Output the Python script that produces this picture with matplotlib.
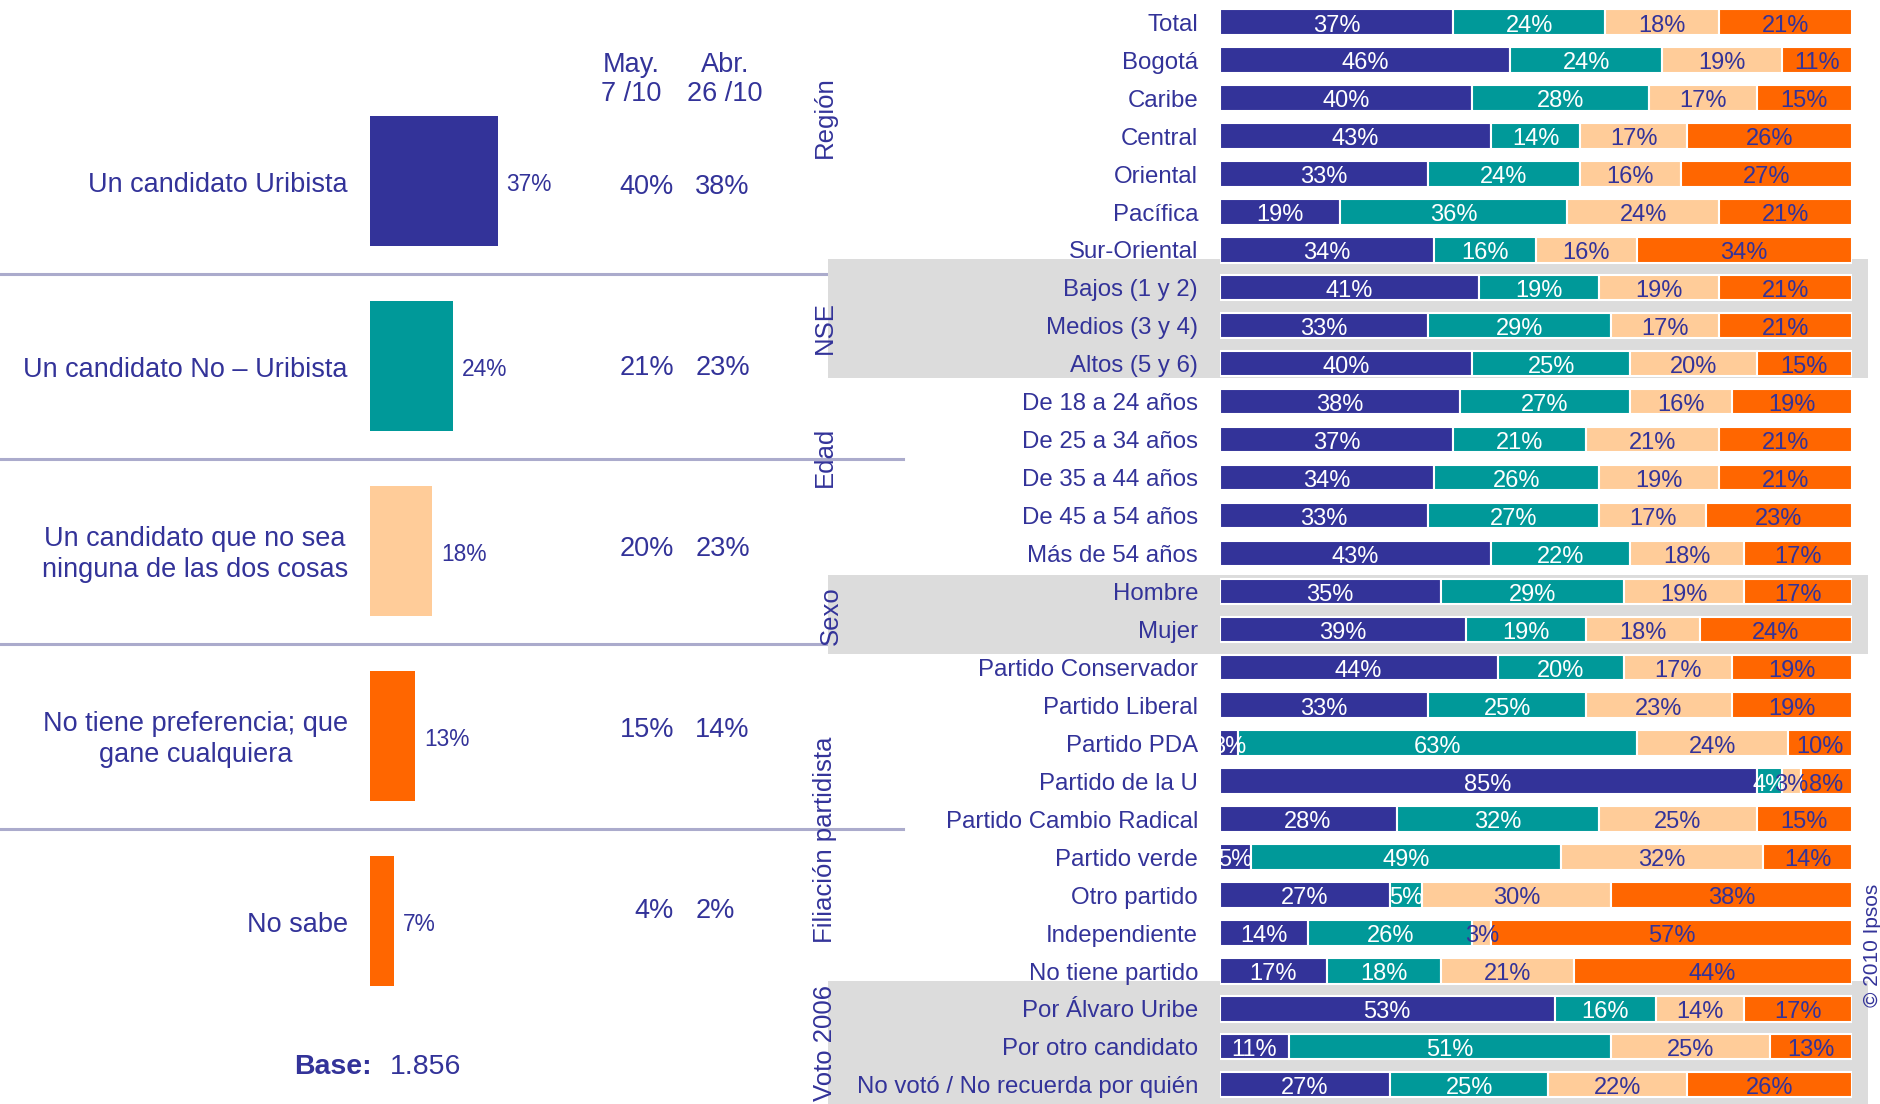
import matplotlib
matplotlib.use("Agg")
import matplotlib.pyplot as plt
import numpy as np

plt.rcParams['font.family'] = ['Liberation Sans', 'DejaVu Sans']

NAVY = '#333399'
TEAL = '#009999'
PEACH = '#FFCC99'
ORANGE = '#FF6600'
TXT = '#333399'

# left panel data
options = ["Un candidato Uribista", "Un candidato No – Uribista",
           "Un candidato que no sea\nninguna de las dos cosas",
           "No tiene preferencia; que\ngane cualquiera", "No sabe"]
current = [37, 24, 18, 13, 7]
may_7 = [40, 21, 20, 15, 4]
abr_26 = [38, 23, 23, 14, 2]
option_colors = [NAVY, TEAL, PEACH, ORANGE, ORANGE]
base_n = "1.856"

# right panel data
rows = ["Total", "Bogotá", "Caribe", "Central", "Oriental", "Pacífica", "Sur-Oriental",
        "Bajos (1 y 2)", "Medios (3 y 4)", "Altos (5 y 6)",
        "De 18 a 24 años", "De 25 a 34 años", "De 35 a 44 años", "De 45 a 54 años", "Más de 54 años",
        "Hombre", "Mujer",
        "Partido Conservador", "Partido Liberal", "Partido PDA", "Partido de la U",
        "Partido Cambio Radical", "Partido verde", "Otro partido", "Independiente", "No tiene partido",
        "Por Álvaro Uribe", "Por otro candidato", "No votó / No recuerda por quién"]
uribista = [37, 46, 40, 43, 33, 19, 34, 41, 33, 40, 38, 37, 34, 33, 43, 35, 39,
            44, 33, 3, 85, 28, 5, 27, 14, 17, 53, 11, 27]
no_uribista = [24, 24, 28, 14, 24, 36, 16, 19, 29, 25, 27, 21, 26, 27, 22, 29, 19,
               20, 25, 63, 4, 32, 49, 5, 26, 18, 16, 51, 25]
ninguna = [18, 19, 17, 17, 16, 24, 16, 19, 17, 20, 16, 21, 19, 17, 18, 19, 18,
           17, 23, 24, 3, 25, 32, 30, 3, 21, 14, 25, 22]
cualquiera = [21, 11, 15, 26, 27, 21, 34, 21, 21, 15, 19, 21, 21, 23, 17, 17, 24,
              19, 19, 10, 8, 15, 14, 38, 57, 44, 17, 13, 26]

groups = ["Región", "NSE", "Edad", "Sexo", "Filiación partidista", "Voto 2006"]
group_spans = [(0, 6), (7, 9), (10, 14), (15, 16), (17, 25), (26, 28)]
group_nudge = [-0.5, 0.06, -0.54, 0.13, 0.55, -0.1]
group_x = [-62.4, -62.4, -62.4, -61.5, -62.4, -62.4]
shaded = [(6.24, 9.39), (14.57, 16.64), (25.27, 29.0)]

W, H = 1880, 1104
fig = plt.figure(figsize=(W / 100, H / 100), dpi=100)

# ---- left panel ----
l_left, l_w = 370, 345
l_top, l_bot = 88.5, 1013.5
axl = fig.add_axes([l_left / W, 1 - l_bot / H, l_w / W, (l_bot - l_top) / H])
y = np.arange(len(options))
axl.barh(y, current, height=0.70, color=option_colors, edgecolor='none')
axl.set_xlim(0, 100)
axl.set_ylim(len(options) - 0.5, -0.5)
axl.axis('off')

for i, opt in enumerate(options):
    axl.text(-6.4, i + 0.02, opt, ha='right', va='center', multialignment='center',
             fontsize=19.5, color=TXT, linespacing=1.25)
    axl.text(current[i] + 2.6, i + 0.02, f"{current[i]}%", ha='left', va='center',
             fontsize=16.4, color=TXT)
    # the comparison columns sit on a slightly tighter pitch than the bars
    yc = i * 0.979 + 0.03
    axl.text(88.1, yc, f"{may_7[i]}%", ha='right', va='center', fontsize=19.5, color=TXT)
    axl.text(94.3, yc, f"{abr_26[i]}%", ha='left', va='center', fontsize=19.5, color=TXT)

axl.text(75.7, -0.55, "May.\n7 /10", ha='center', va='center', fontsize=19.5,
         color=TXT, linespacing=1.15)
axl.text(102.9, -0.55, "Abr.\n26 /10", ha='center', va='center', fontsize=19.5,
         color=TXT, linespacing=1.15)

for k in range(len(options) - 1):
    axl.axhline(k + 0.5, xmin=-l_left / l_w, xmax=(903 - l_left) / l_w,
                color='#ABABCC', lw=2.2, clip_on=False, zorder=0)

axl.text(-22.0, 4.79, "Base:", ha='left', va='center', fontsize=20.5,
         fontweight='bold', color=TXT)
axl.text(5.8, 4.79, base_n, ha='left', va='center', fontsize=20.5, color=TXT)

# ---- right panel ----
r_left, r_right = 1219.5, 1851.7
row0, step = 22.1, 37.95
r_top = row0 - step / 2
r_bot = row0 + step * (len(rows) - 0.5)
axr = fig.add_axes([r_left / W, 1 - r_bot / H, (r_right - r_left) / W, (r_bot - r_top) / H])
axr.set_xlim(0, 100)
axr.set_ylim(len(rows) - 0.5, -0.5)
axr.axis('off')

r_w = r_right - r_left
for a, b in shaded:
    axr.axhspan(a, b, xmin=(828 - r_left) / r_w, xmax=(1867.7 - r_left) / r_w,
                color='#DCDCDC', clip_on=False, zorder=0, lw=0)

yr = np.arange(len(rows))
series = [uribista, no_uribista, ninguna, cualquiera]
colors = [NAVY, TEAL, PEACH, ORANGE]
label_colors = ['white', 'white', TXT, TXT]
left = np.zeros(len(rows))
for vals, col, lc in zip(series, colors, label_colors):
    vals = np.array(vals, dtype=float)
    axr.barh(yr, vals, left=left, height=0.67, color=col,
             edgecolor='white', linewidth=1.5, zorder=2)
    for j, v in enumerate(vals):
        axr.text(left[j] + v / 2, j + 0.09, f"{int(v)}%", ha='center', va='center',
                 fontsize=17, color=lc, zorder=3)
    left += vals

for j, name in enumerate(rows):
    axr.text(-3.4, j + 0.07, name, ha='right', va='center', fontsize=17.3, color=TXT)

for g, (a, b), dn, gx in zip(groups, group_spans, group_nudge, group_x):
    axr.text(gx, (a + b) / 2 + dn, g, rotation=90, ha='center', va='center',
             fontsize=18.5, color=TXT, clip_on=False)

fig.text(1873 / W, 1 - 945 / H, "© 2010 Ipsos", rotation=90, ha='center', va='center',
         fontsize=15, color=TXT)

fig.savefig("out.png", dpi=100)
